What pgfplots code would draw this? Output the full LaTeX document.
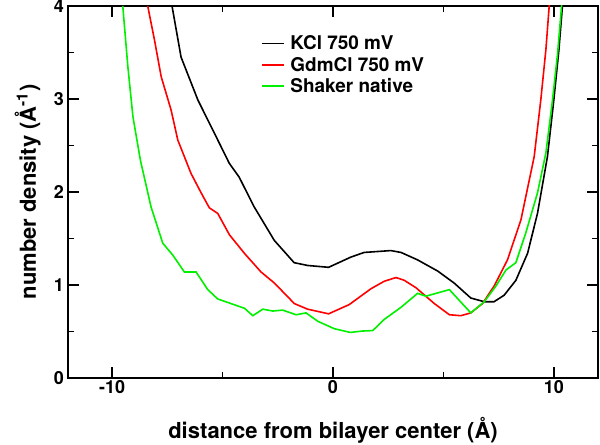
\documentclass[border=0pt]{standalone}
\usepackage{fontspec}
\setmainfont{TeX Gyre Heros}
\usepackage{pgfplots}
\pgfplotsset{compat=1.18}
\definecolor{grn}{RGB}{0,240,0}
\begin{document}
\begin{tikzpicture}
\begin{axis}[
  scale only axis,
  width=397.5pt, height=279pt,
  xmin=-12, xmax=12, ymin=0, ymax=4,
  xtick={-10,0,10}, ytick={0,1,2,3,4},
  minor x tick num=1, minor y tick num=1,
  tick align=inside,
  major tick length=8pt, minor tick length=4.5pt,
  every tick/.style={black, line width=1pt},
  axis line style={line width=1.2pt},
  font=\bfseries,
  tick label style={font=\fontsize{13.5}{15}\selectfont\bfseries},
  /pgf/number format/assume math mode=true,
  xticklabel style={yshift=1.5pt},
  yticklabel style={xshift=0.5pt},
  label style={font=\fontsize{16.5}{18}\selectfont\bfseries},
  xlabel={distance from bilayer center (Å)},
  ylabel={number density (Å\textsuperscript{-1})},
  xlabel style={yshift=-11pt},
  ylabel style={yshift=3pt},
  legend style={draw=none, fill=none, inner xsep=0pt, inner ysep=0pt,
    at={(axis cs:-3.26,3.71)}, anchor=north west,
    font=\fontsize{14.2}{16}\selectfont\bfseries, row sep=0pt,
    nodes={inner xsep=4.5pt}},
  legend cell align=left,
  legend image code/.code={\draw[#1, line width=1.4pt] (0pt,0.3pt) -- (16pt,0.3pt);},
  clip=true,
]
\coordinate (ll) at (rel axis cs:0,0);
\coordinate (ur) at (rel axis cs:1,1);
\addplot[black, line width=1.2pt] coordinates {
(-7.29,4.0) (-6.88,3.45) (-6.12,2.99) (-5.22,2.56) (-4.7,2.31) (-4.25,2.16)
(-3.57,1.84) (-2.66,1.48) (-1.76,1.24) (-1.15,1.21) (-0.2,1.19) (0.81,1.30)
(1.41,1.35) (2.62,1.37) (3.08,1.35) (3.83,1.27) (4.74,1.15) (5.49,1.02)
(6.24,0.86) (6.85,0.82) (7.29,0.82) (7.75,0.89) (8.28,1.05) (8.81,1.34)
(9.26,1.77) (9.71,2.38) (10.0,2.99) (10.23,3.53) (10.39,4.0) (10.45,4.2)
};
\addlegendentry{KCl 750 mV}
\addplot[red, line width=1.2pt] coordinates {
(-8.39,4.0) (-8.08,3.63) (-7.78,3.24) (-7.33,2.88) (-7.03,2.56) (-6.43,2.20)
(-5.97,1.99) (-5.6,1.83) (-5.22,1.77) (-4.69,1.54) (-4.01,1.34) (-3.26,1.14)
(-2.65,1.02) (-1.75,0.80) (-1.15,0.74) (-0.2,0.69) (0.74,0.79) (1.72,0.96)
(2.32,1.04) (2.85,1.08) (3.23,1.05) (3.76,0.97) (4.59,0.80) (5.27,0.68)
(5.79,0.67) (6.24,0.70) (6.77,0.80) (7.3,0.99) (7.9,1.27) (8.51,1.70)
(9.11,2.38) (9.41,2.99) (9.64,3.53) (9.79,4.0) (9.85,4.2)
};
\addlegendentry{GdmCl 750 mV}
\addplot[grn, line width=1.2pt] coordinates {
(-9.52,4.0) (-9.29,3.35) (-9.06,2.81) (-8.72,2.34) (-8.24,1.84) (-7.71,1.45)
(-7.25,1.32) (-6.73,1.14) (-6.2,1.14) (-5.67,0.95) (-5.22,0.85) (-4.62,0.80)
(-4.01,0.75) (-3.63,0.67) (-3.18,0.74) (-2.73,0.72) (-2.28,0.73) (-1.67,0.68)
(-1.22,0.70) (-0.69,0.61) (0.06,0.53) (0.78,0.49) (1.34,0.505) (1.8,0.51)
(2.32,0.63) (3.08,0.76) (3.83,0.91) (4.21,0.88) (5.27,0.95) (6.24,0.70)
(6.85,0.82) (7.38,0.99) (7.83,1.16) (8.28,1.24) (8.73,1.56) (9.26,1.99)
(9.64,2.42) (9.94,2.99) (10.17,3.49) (10.35,4.0) (10.4,4.2)
};
\addlegendentry{Shaker native}
\end{axis}
\pgfresetboundingbox
\path[use as bounding box] ([shift={(-51pt,-50.25pt)}]ll) rectangle ([shift={(1.5pt,4.5pt)}]ur);
\end{tikzpicture}
\end{document}
